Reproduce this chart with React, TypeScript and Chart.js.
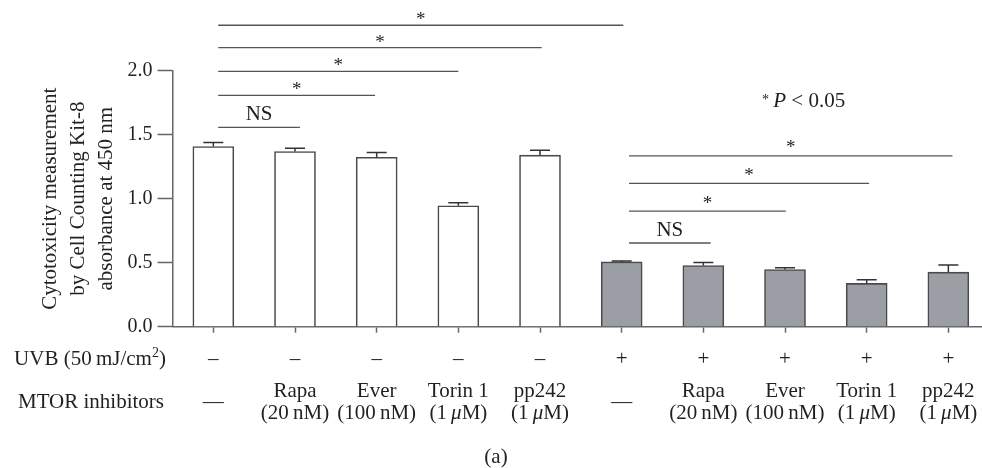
import React, { useEffect, useRef } from 'react';
import { Chart, registerables } from 'chart.js';

Chart.register(...registerables);

// ---- data ----
const categoryIndex = [0, 1, 2, 3, 4, 5, 6, 7, 8, 9];
const uvbSigns = ['–', '–', '–', '–', '–', '+', '+', '+', '+', '+'];
const inhibitorNames = ['—', 'Rapa', 'Ever', 'Torin 1', 'pp242', '—', 'Rapa', 'Ever', 'Torin 1', 'pp242'];
const inhibitorDoses = ['', '(20\u2009nM)', '(100\u2009nM)', '(1\u2009μM)', '(1\u2009μM)', '', '(20\u2009nM)', '(100\u2009nM)', '(1\u2009μM)', '(1\u2009μM)'];
const meanValues = [1.407, 1.368, 1.324, 0.945, 1.34, 0.506, 0.478, 0.447, 0.338, 0.426];
const errorValues = [0.033, 0.026, 0.037, 0.024, 0.039, 0.008, 0.023, 0.013, 0.028, 0.057];
const uvbTreated = [false, false, false, false, false, true, true, true, true, true];
const yTickValues = [0, 0.5, 1.0, 1.5, 2.0];
const yTitleLines = ['Cytotoxicity measurement', 'by Cell Counting Kit-8', 'absorbance at 450 nm'];

// significance brackets: from/to in category units, y in data units
const upperComparisons = [
  { from: 0.06, to: 1.06, y: 1.558, label: 'NS' },
  { from: 0.06, to: 1.98, y: 1.807, label: '*' },
  { from: 0.06, to: 3.0, y: 1.994, label: '*' },
  { from: 0.06, to: 4.02, y: 2.181, label: '*' },
  { from: 0.06, to: 5.02, y: 2.355, label: '*' },
];
const lowerComparisons = [
  { from: 5.09, to: 6.09, y: 0.654, label: 'NS' },
  { from: 5.09, to: 7.01, y: 0.903, label: '*' },
  { from: 5.09, to: 8.03, y: 1.119, label: '*' },
  { from: 5.09, to: 9.05, y: 1.335, label: '*' },
];

const FONT = "'Liberation Serif', 'Times New Roman', serif";
const TEXT = '#231f20';
const LINE = '#555555';
const FS = 21;

type Run = { t: string; italic?: boolean; size?: number; rise?: number };

function drawRuns(ctx: CanvasRenderingContext2D, runs: Run[], x: number, y: number, align: 'left' | 'center', baseSize: number) {
  const fontOf = (r: Run) => `${r.italic ? 'italic ' : ''}${r.size ?? baseSize}px ${FONT}`;
  let total = 0;
  const widths = runs.map((r) => {
    ctx.font = fontOf(r);
    const w = ctx.measureText(r.t).width;
    total += w;
    return w;
  });
  let cx = align === 'center' ? x - total / 2 : x;
  ctx.textAlign = 'left';
  ctx.textBaseline = 'alphabetic';
  runs.forEach((r, i) => {
    ctx.font = fontOf(r);
    ctx.fillText(r.t, cx, y - (r.rise ?? 0));
    cx += widths[i];
  });
}

function doseRuns(s: string): Run[] {
  const parts = s.split('μ');
  if (parts.length === 1) return [{ t: s }];
  return [{ t: parts[0] }, { t: 'μ', italic: true }, { t: parts[1] }];
}

const annotationPlugin = {
  id: 'figureAnnotations',
  afterDraw(chart: any) {
    const { ctx } = chart;
    const xs = chart.scales.x;
    const ys = chart.scales.y;
    ctx.save();

    // error bars (upper only)
    ctx.strokeStyle = '#333333';
    ctx.lineWidth = 1.5;
    meanValues.forEach((m, i) => {
      const px = xs.getPixelForValue(categoryIndex[i]);
      const y0 = ys.getPixelForValue(m);
      const y1 = ys.getPixelForValue(m + errorValues[i]);
      ctx.beginPath();
      ctx.moveTo(px, y0);
      ctx.lineTo(px, y1);
      ctx.moveTo(px - 10, y1);
      ctx.lineTo(px + 10, y1);
      ctx.stroke();
    });

    // significance brackets
    const drawComparisons = (list: typeof upperComparisons, starOffset: number) => {
      list.forEach((c) => {
        const x0 = xs.getPixelForValue(c.from);
        const x1 = xs.getPixelForValue(c.to);
        const py = ys.getPixelForValue(c.y);
        ctx.strokeStyle = LINE;
        ctx.lineWidth = 1.3;
        ctx.beginPath();
        ctx.moveTo(x0, py);
        ctx.lineTo(x1, py);
        ctx.stroke();
        ctx.fillStyle = TEXT;
        ctx.textAlign = 'center';
        ctx.textBaseline = 'alphabetic';
        const mid = (x0 + x1) / 2;
        if (c.label === 'NS') {
          ctx.font = `${FS}px ${FONT}`;
          ctx.fillText('NS', mid, py - 7);
        } else {
          ctx.font = `19px ${FONT}`;
          ctx.fillText('*', mid, py - starOffset + 10);
        }
      });
    };
    drawComparisons(upperComparisons, 10);
    drawComparisons(lowerComparisons, 12.5);

    ctx.fillStyle = TEXT;
    // P value note
    drawRuns(ctx, [{ t: '*', size: 14, rise: 3 }, { t: '\u2009' }, { t: 'P', italic: true }, { t: ' < 0.05' }], 762, 107, 'left', FS);

    // row headers
    drawRuns(ctx, [{ t: 'UVB (50\u2009mJ/cm' }, { t: '2', size: 14, rise: 8 }, { t: ')' }], 90, 365, 'center', FS);
    drawRuns(ctx, [{ t: 'MTOR inhibitors' }], 91, 408, 'center', FS);

    // per-category rows
    categoryIndex.forEach((v, i) => {
      const px = xs.getPixelForValue(v);
      drawRuns(ctx, [{ t: uvbSigns[i] }], px, 365, 'center', FS);
      if (inhibitorDoses[i] === '') {
        drawRuns(ctx, [{ t: inhibitorNames[i] }], px, 408, 'center', FS);
      } else {
        drawRuns(ctx, [{ t: inhibitorNames[i] }], px, 397, 'center', FS);
        drawRuns(ctx, doseRuns(inhibitorDoses[i]), px, 419, 'center', FS);
      }
    });

    // panel label
    drawRuns(ctx, [{ t: '(a)' }], 496, 463, 'center', FS);
    ctx.restore();
  },
};

export default function App() {
  const canvasRef = useRef<HTMLCanvasElement | null>(null);

  useEffect(() => {
    if (!canvasRef.current) return;
    Chart.defaults.font.family = FONT;
    Chart.defaults.color = TEXT;
    const chart = new Chart(canvasRef.current, {
      type: 'bar',
      data: {
        datasets: [
          {
            data: categoryIndex.map((c, i) => ({ x: c, y: meanValues[i] })),
            backgroundColor: uvbTreated.map((t) => (t ? '#9b9ea5' : '#ffffff')),
            borderColor: '#4a4a4a',
            borderWidth: 1.6,
            barThickness: 41,
          },
        ],
      },
      options: {
        animation: false,
        responsive: true,
        maintainAspectRatio: false,
        layout: { padding: { top: 70.7, left: 0, right: 0, bottom: 0 } },
        plugins: { legend: { display: false }, tooltip: { enabled: false } },
        scales: {
          x: {
            type: 'linear',
            offset: false,
            min: -0.5,
            max: 9.412,
            afterBuildTicks: (scale: any) => {
              scale.ticks = categoryIndex.map((v) => ({ value: v }));
            },
            afterFit: (scale: any) => {
              scale.height = 141.3;
            },
            ticks: { display: false },
            grid: {
              offset: false,
              drawOnChartArea: false,
              drawTicks: true,
              tickLength: 6,
              tickColor: '#666666',
              tickWidth: 1.5,
            },
            border: { display: true, color: '#666666', width: 1.5 },
          },
          y: {
            min: 0,
            max: 2.0,
            afterBuildTicks: (scale: any) => {
              scale.ticks = yTickValues.map((v) => ({ value: v }));
            },
            afterFit: (scale: any) => {
              scale.width = 172.5;
            },
            ticks: {
              padding: 5,
              color: TEXT,
              font: { size: 20, family: FONT },
              callback: (v: any) => Number(v).toFixed(1),
            },
            grid: {
              drawOnChartArea: false,
              drawTicks: true,
              tickLength: 15,
              tickColor: '#666666',
              tickWidth: 1.5,
            },
            border: { display: true, color: '#666666', width: 1.5 },
            title: {
              display: true,
              text: yTitleLines,
              color: TEXT,
              font: { size: 21, family: FONT, lineHeight: 28 / 21 },
              padding: { top: 36, bottom: 0 },
            },
          },
        },
      },
      plugins: [annotationPlugin],
    });
    return () => chart.destroy();
  }, []);

  return (
    <div style={{ position: 'fixed', left: 0, top: 0, width: 982, height: 468, background: '#ffffff' }}>
      <canvas ref={canvasRef} />
    </div>
  );
}
